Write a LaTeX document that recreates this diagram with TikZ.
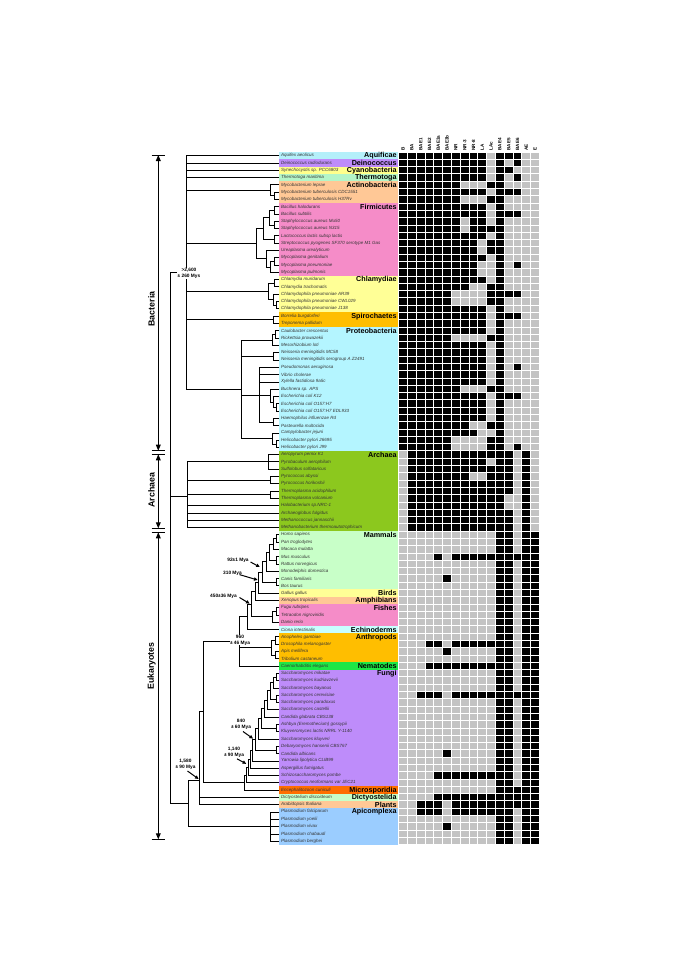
\documentclass[tikz,border=0pt]{standalone}
\usepackage{fontspec}
\setmainfont{Liberation Sans}
\usetikzlibrary{arrows.meta}
\definecolor{cAqu}{HTML}{B4F0FA}
\definecolor{cDei}{HTML}{BE8CFA}
\definecolor{cCya}{HTML}{FFFF8C}
\definecolor{cThe}{HTML}{B4F5C8}
\definecolor{cAct}{HTML}{FFC896}
\definecolor{cFir}{HTML}{F58CC8}
\definecolor{cChl}{HTML}{FFFF96}
\definecolor{cSpi}{HTML}{FFBE00}
\definecolor{cPro}{HTML}{B4F5FF}
\definecolor{cArc}{HTML}{8CC81E}
\definecolor{cMam}{HTML}{C8FFC8}
\definecolor{cBir}{HTML}{FFFF96}
\definecolor{cAmp}{HTML}{FFC896}
\definecolor{cFis}{HTML}{F58CC8}
\definecolor{cEch}{HTML}{C8FFFF}
\definecolor{cAnt}{HTML}{FFBE00}
\definecolor{cNem}{HTML}{1EE646}
\definecolor{cFun}{HTML}{BE8CFA}
\definecolor{cMic}{HTML}{FF6E00}
\definecolor{cDic}{HTML}{C8FFC8}
\definecolor{cPla}{HTML}{FFC896}
\definecolor{cApi}{HTML}{9BCDFF}
\definecolor{cGray}{HTML}{C3C3C3}
\newcommand\ry[1]{155.7+(#1-1)*7.29}
\newcommand\Br[5]{\draw[tree] (#3,#2) -- (#1,#2) -- (#1,#4) -- (#5,#4);}
\newcommand\Ed[3]{\draw[tree] (#1,#2) -- (#3,#2);}
\newcommand\spc[2]{\node[splab] at (281,{\ry{#1}}) {#2};}
\newcommand\gbox[3]{\fill[#3] (279,{152.05+(#1-1)*7.29}) rectangle (397.7,{152.05+#2*7.29});}
\newcommand\glab[2]{\node[grplab] at (396.8,{\ry{#1}+0.3}) {#2};}
\newcommand\blk[2]{\foreach \c in {#2}{\fill[black] ({398.7+(\c-1)*8.8},{152.05+(#1-1)*7.29}) rectangle ++(8.8,7.29);}}
\newcommand\hdr[2]{\node[hdrlab] at ({398.7+(#1-0.5)*8.8},150.6) {#2};}
\begin{document}
\begin{tikzpicture}[x=1pt,y=-1pt,
  tree/.style={line width=0.85pt,line cap=rect},
  splab/.style={anchor=west,inner sep=0,text=black!80,font=\fontsize{4.5pt}{5pt}\selectfont\itshape},
  grplab/.style={anchor=east,inner sep=0,font=\fontsize{7.2pt}{8pt}\selectfont\bfseries},
  hdrlab/.style={rotate=90,anchor=west,inner sep=0,font=\fontsize{4.6pt}{5pt}\selectfont\bfseries},
  tl/.style={align=center,inner sep=0.4pt,font=\fontsize{4.8pt}{5.8pt}\selectfont\bfseries},
  tarr/.style={line width=1pt,-{Triangle[length=3.6pt,width=3.4pt]}},
  darr/.style={line width=0.9pt,{Triangle[length=6pt,width=4.8pt]}-{Triangle[length=6pt,width=4.8pt]}},
  dlab/.style={rotate=90,inner sep=0,font=\fontsize{8.8pt}{10pt}\selectfont\bfseries}]
\fill[white] (0,0) rectangle (685,969);
\useasboundingbox (0,0) rectangle (685,969);
% ---------- group boxes ----------
\gbox{1}{1}{cAqu}\gbox{2}{2}{cDei}\gbox{3}{3}{cCya}\gbox{4}{4}{cThe}
\gbox{5}{7}{cAct}\gbox{8}{17}{cFir}\gbox{18}{22}{cChl}\gbox{23}{24}{cSpi}
\gbox{25}{41}{cPro}\gbox{42}{52}{cArc}\gbox{53}{60}{cMam}\gbox{61}{61}{cBir}
\gbox{62}{62}{cAmp}\gbox{63}{65}{cFis}\gbox{66}{66}{cEch}\gbox{67}{70}{cAnt}
\gbox{71}{71}{cNem}\gbox{72}{87}{cFun}\gbox{88}{88}{cMic}\gbox{89}{89}{cDic}
\gbox{90}{90}{cPla}\gbox{91}{95}{cApi}
% ---------- species ----------
\spc{1}{Aquifex aeolicus}
\spc{2}{Deinococcus radiodurans}
\spc{3}{Synechocystis sp. PCC6803}
\spc{4}{Thermotoga maritima}
\spc{5}{Mycobacterium leprae}
\spc{6}{Mycobacterium tuberculosis CDC1551}
\spc{7}{Mycobacterium tuberculosis H37Rv}
\spc{8}{Bacillus halodurans}
\spc{9}{Bacillus subtilis}
\spc{10}{Staphylococcus aureus Mu50}
\spc{11}{Staphylococcus aureus N315}
\spc{12}{Lactococcus lactis subsp lactis}
\spc{13}{Streptococcus pyogenes SF370 serotype M1 Gas}
\spc{14}{Ureaplasma urealyticum}
\spc{15}{Mycoplasma genitalium}
\spc{16}{Mycoplasma pneumoniae}
\spc{17}{Mycoplasma pulmonis}
\spc{18}{Chlamydia muridarum}
\spc{19}{Chlamydia trachomatis}
\spc{20}{Chlamydophila pneumoniae AR39}
\spc{21}{Chlamydophila pneumoniae CWL029}
\spc{22}{Chlamydophila pneumoniae J138}
\spc{23}{Borrelia burgdorferi}
\spc{24}{Treponema pallidum}
\spc{25}{Caulobacter crescentus}
\spc{26}{Rickettsia prowazekii}
\spc{27}{Mesorhizobium loti}
\spc{28}{Neisseria meningitidis MC58}
\spc{29}{Neisseria meningitidis serogroup A Z2491}
\spc{30}{Pseudomonas aeruginosa}
\spc{31}{Vibrio cholerae}
\spc{32}{Xylella fastidiosa 9a5c}
\spc{33}{Buchnera sp. APS}
\spc{34}{Escherichia coli K12}
\spc{35}{Escherichia coli O157:H7}
\spc{36}{Escherichia coli O157:H7 EDL933}
\spc{37}{Haemophilus influenzae Rd}
\spc{38}{Pasteurella multocida}
\spc{39}{Campylobacter jejuni}
\spc{40}{Helicobacter pylori 26695}
\spc{41}{Helicobacter pylori J99}
\spc{42}{Aeropyrum pernix K1}
\spc{43}{Pyrobaculum aerophilum}
\spc{44}{Sulfolobus solfataricus}
\spc{45}{Pyrococcus abyssi}
\spc{46}{Pyrococcus horikoshii}
\spc{47}{Thermoplasma acidophilum}
\spc{48}{Thermoplasma volcanium}
\spc{49}{Halobacterium sp.NRC-1}
\spc{50}{Archaeoglobus fulgidus}
\spc{51}{Methanococcus jannaschii}
\spc{52}{Methanobacterium thermoautotrophicum}
\spc{53}{Homo sapiens}
\spc{54}{Pan troglodytes}
\spc{55}{Macaca mulatta}
\spc{56}{Mus musculus}
\spc{57}{Rattus norvegicus}
\spc{58}{Monodelphis domestica}
\spc{59}{Canis familiaris}
\spc{60}{Bos taurus}
\spc{61}{Gallus gallus}
\spc{62}{Xenopus tropicalis}
\spc{63}{Fugu rubripes}
\spc{64}{Tetraodon nigroviridis}
\spc{65}{Danio rerio}
\spc{66}{Ciona intestinalis}
\spc{67}{Anopheles gambiae}
\spc{68}{Drosophila melanogaster}
\spc{69}{Apis mellifera}
\spc{70}{Tribolium castaneum}
\spc{71}{Caenorhabditis elegans}
\spc{72}{Saccharomyces mikatae}
\spc{73}{Saccharomyces kudriavzevii}
\spc{74}{Saccharomyces bayanus}
\spc{75}{Saccharomyces cerevisiae}
\spc{76}{Saccharomyces paradoxus}
\spc{77}{Saccharomyces castellii}
\spc{78}{Candida glabrata CBS138}
\spc{79}{Ashbya (Eremothecium) gossypii}
\spc{80}{Kluyveromyces lactis NRRL Y-1140}
\spc{81}{Saccharomyces kluyveri}
\spc{82}{Debaryomyces hansenii CBS767}
\spc{83}{Candida albicans}
\spc{84}{Yarrowia lipolytica CLIB99}
\spc{85}{Aspergillus fumigatus}
\spc{86}{Schizosaccharomyces pombe}
\spc{87}{Cryptococcus neoformans var JEC21}
\spc{88}{Encephalitozoon cuniculi}
\spc{89}{Dictyostelium discoideum}
\spc{90}{Arabidopsis thaliana}
\spc{91}{Plasmodium falciparum}
\spc{92}{Plasmodium yoelii}
\spc{93}{Plasmodium vivax}
\spc{94}{Plasmodium chabaudi}
\spc{95}{Plasmodium berghei}
% ---------- group labels ----------
\glab{1}{Aquificae}\glab{2}{Deinococcus}\glab{3}{Cyanobacteria}\glab{4}{Thermotoga}
\glab{5}{Actinobacteria}\glab{8}{Firmicutes}\glab{18}{Chlamydiae}\glab{23}{Spirochaetes}
\glab{25}{Proteobacteria}\glab{42}{Archaea}\glab{53}{Mammals}\glab{61}{Birds}
\glab{62}{Amphibians}\glab{63}{Fishes}\glab{66}{Echinoderms}\glab{67}{Anthropods}
\glab{71}{Nematodes}\glab{72}{Fungi}\glab{88}{Microsporidia}\glab{89}{Dictyostelida}
\glab{90}{Plants}\glab{91}{Apicomplexa}
% ---------- grid ----------
\fill[cGray] (398.7,152.05) rectangle (539.5,844.6);
\blk{1}{1,...,10,12,13,14}
\blk{2}{1,...,10,12,14}
\blk{3}{1,...,10,12,13}
\blk{4}{1,...,10,12,14}
\blk{5}{1,...,7,11,12}
\blk{6}{1,...,10,12,13,14}
\blk{7}{1,...,7,11,12}
\blk{8}{1,...,10,12}
\blk{9}{1,...,10,12,13,14}
\blk{10}{1,...,7,9,10,12}
\blk{11}{1,...,7,9,10,11,12}
\blk{12}{1,...,10,12}
\blk{13}{1,...,9,11,12}
\blk{14}{1,...,9,11,12}
\blk{15}{1,...,10,12}
\blk{16}{1,...,9,12,14}
\blk{17}{1,...,9,12}
\blk{18}{1,...,10,12}
\blk{19}{1,...,8,11,12}
\blk{20}{1,...,6,11,12,13,14}
\blk{21}{1,...,6,11,12}
\blk{22}{1,...,10,12}
\blk{23}{1,...,10,12,13,14}
\blk{24}{1,...,10,12}
\blk{25}{1,...,10,12}
\blk{26}{1,...,6,11,12}
\blk{27}{1,...,10,12}
\blk{28}{1,...,10,12}
\blk{29}{1,...,10,12}
\blk{30}{1,...,10,12,14}
\blk{31}{1,...,10,12}
\blk{32}{1,...,10,12}
\blk{33}{1,...,7,11,12}
\blk{34}{1,...,10,12,13,14}
\blk{35}{1,...,10,12}
\blk{36}{1,...,10,12}
\blk{37}{1,...,10,12}
\blk{38}{1,...,8,11,12}
\blk{39}{1,...,9,12}
\blk{40}{1,...,6,11,12}
\blk{41}{1,...,6,11,12,14}
\blk{42}{2,...,13,15}
\blk{43}{2,...,10,12,13,15}
\blk{44}{2,...,13,15}
\blk{45}{2,...,8,11,12,13,15}
\blk{46}{2,...,13,15}
\blk{47}{2,...,13,15}
\blk{48}{2,...,12,15}
\blk{49}{2,...,12,15}
\blk{50}{2,...,13,15}
\blk{51}{2,...,13,15}
\blk{52}{2,...,13,15}
\foreach \r in {53,...,95}{\blk{\r}{12,13,15,16}}
\blk{56}{5,7,8,9,10,11,14}
\blk{59}{6}
\blk{68}{4,5,7,8,9,10,11}
\blk{69}{6}
\blk{71}{4,...,11}
\blk{75}{3,4,5,7,8,9,10,11,14}
\blk{83}{6}
\blk{86}{5,...,11}
\blk{88}{14}
\blk{89}{5,...,14}
\blk{90}{3,4,5,7,8,9,10,11,12,13,14}
\blk{91}{3,4,5,7,8,9,10,11}
\blk{93}{6}
\foreach \c in {0,...,16}{\draw[white,line width=0.9pt] ({398.7+\c*8.8},152.05) -- ++(0,692.55);}
\foreach \r in {0,...,95}{\draw[white,line width=0.9pt] (398.7,{152.05+\r*7.29}) -- ++(140.8,0);}
% ---------- headers ----------
\hdr{1}{B}\hdr{2}{BA}\hdr{3}{BAE1}\hdr{4}{BAE2}\hdr{5}{BAE3a}\hdr{6}{BAE3b}
\hdr{7}{NR}\hdr{8}{NR-3}\hdr{9}{NR-8}\hdr{10}{LA}\hdr{11}{LAc}\hdr{12}{BAE4}
\hdr{13}{BAE5}\hdr{14}{BAE6}\hdr{15}{AE}\hdr{16}{E}
% ---------- tree: bacteria ----------
\Br{186.3}{155.7}{279}{389.3}{241}
\Ed{186.3}{163.0}{279}\Ed{186.3}{170.3}{279}\Ed{186.3}{177.6}{279}
\Ed{186.3}{190.4}{270}\Ed{186.3}{243.66}{256.7}\Ed{186.3}{291.46}{268.3}\Ed{186.3}{319.75}{273.3}
\Br{274}{192.2}{279}{199.5}{279}
\Br{270}{184.9}{279}{195.85}{274}
\Br{274}{206.7}{279}{214.0}{279}
\Br{274}{221.3}{279}{228.6}{279}
\Br{269}{210.35}{274}{224.95}{274}
\Br{274}{235.9}{279}{243.2}{279}
\Br{263}{217.65}{269}{239.55}{274}
\Br{274}{257.8}{279}{265.1}{279}
\Br{270}{261.45}{274}{272.4}{279}
\Br{266}{250.5}{279}{266.93}{270}
\Br{256.7}{228.6}{263}{258.71}{266}
\Br{274}{279.6}{279}{286.9}{279}
\Br{276}{301.5}{279}{308.8}{279}
\Br{273}{294.2}{279}{305.15}{276}
\Br{268.3}{283.25}{274}{299.68}{273}
\Br{273.3}{316.1}{279}{323.4}{279}
\Br{275}{330.9}{279}{338.2}{279}
\Br{272}{334.55}{275}{345.5}{279}
\Br{273}{352.8}{279}{360.1}{279}
\Br{276}{403.9}{279}{411.2}{279}
\Br{273}{396.6}{279}{407.55}{276}
\Br{270}{389.3}{279}{402.08}{273}
\Br{273}{418.5}{279}{425.8}{279}
\Br{259.3}{367.4}{279}{422.15}{273}
\Ed{259.3}{374.7}{279}\Ed{259.3}{382.0}{279}\Ed{259.3}{395.69}{270}
\Br{276}{440.4}{279}{447.7}{279}
\Br{272}{433.1}{279}{444.05}{276}
\Br{241}{340.03}{272}{438.58}{272}
\Ed{241}{356.45}{273}\Ed{241}{395.69}{259.3}
% ---------- tree: archaea ----------
\Br{268.3}{454.6}{279}{469.2}{279}\Ed{268.3}{461.9}{279}
\Br{270}{476.5}{279}{483.8}{279}
\Br{270}{491.1}{279}{498.4}{279}
\Br{187.7}{461.9}{268.3}{527.6}{279}
\Ed{187.7}{480.15}{270}\Ed{187.7}{494.75}{270}
\Ed{187.7}{505.7}{279}\Ed{187.7}{513.0}{279}\Ed{187.7}{520.3}{279}
% ---------- tree: eukaryotes ----------
\Br{276}{534.8}{279}{542.1}{279}
\Br{273}{538.45}{276}{549.4}{279}
\Br{276}{556.7}{279}{564.0}{279}
\Br{269}{543.93}{273}{560.35}{276}
\Br{266}{552.14}{269}{571.3}{279}
\Br{276}{578.6}{279}{585.9}{279}
\Br{262}{561.72}{266}{582.25}{276}
\Br{258.3}{571.99}{262}{593.1}{279}
\Br{255}{582.55}{258.3}{600.4}{279}
\Br{276}{607.7}{279}{615.0}{279}
\Br{272}{611.35}{276}{622.3}{279}
\Br{251}{591.48}{255}{616.83}{272}
\Br{247}{604.15}{251}{629.6}{279}
\Br{275}{636.9}{279}{644.2}{279}
\Br{275}{651.5}{279}{658.8}{279}
\Br{271.7}{640.55}{275}{655.15}{275}
\Br{239.3}{616.88}{247}{666.1}{279}
\Ed{239.3}{647.85}{271.7}
\Br{276}{673.4}{279}{680.7}{279}
\Br{273}{677.05}{276}{688.0}{279}
\Br{276}{695.3}{279}{702.6}{279}
\Br{270}{682.53}{273}{698.95}{276}
\Br{267}{690.74}{270}{709.9}{279}
\Br{264}{700.32}{267}{717.2}{279}
\Br{276}{724.5}{279}{731.8}{279}
\Br{261}{708.76}{264}{728.15}{276}
\Br{258}{718.46}{261}{739.1}{279}
\Br{276}{746.4}{279}{753.7}{279}
\Br{255}{728.78}{258}{750.05}{276}
\Br{252.5}{739.42}{255}{761.0}{279}
\Br{250}{750.21}{252.5}{768.3}{279}
\Br{248}{759.26}{250}{775.6}{279}
\Br{246}{767.43}{248}{782.9}{279}
\Br{244}{775.17}{246}{790.2}{279}
\Br{203.3}{641.7}{239.3}{782.68}{244}
\Br{199.3}{711.7}{203.3}{804.8}{279}
\Ed{199.3}{797.5}{279}
\Br{270}{812.1}{279}{841.3}{279}
\Ed{270}{819.4}{279}\Ed{270}{826.7}{279}\Ed{270}{834.0}{279}
\Br{188.3}{780}{199.3}{826.7}{270}
% ---------- root ----------
\Br{170}{272}{186.3}{803.3}{188.3}
\Ed{170}{496}{187.7}
% ---------- time labels ----------
\node[tl,fill=white] at (189,273.6) {>2,600\\± 260 Mys};
\node[tl] at (238,560.5) {92±1 Mya};
\draw[tarr] (250.5,562) -- (259.8,567);
\node[tl] at (232.5,573.3) {310 Mya};
\draw[tarr] (239.5,574.6) -- (257.6,580);
\node[tl] at (223.5,596.2) {450±36 Mya};
\draw[tarr] (239.5,597.5) -- (249.6,603.6);
\node[tl,fill=white] at (240,640) {960\\± 46 Mya};
\node[tl] at (241,724.5) {840\\± 60 Mya};
\draw[tarr] (243,731.5) -- (253,738.6);
\node[tl] at (234,752) {1,140\\± 90 Mya};
\draw[tarr] (237,758.8) -- (246.2,763.8);
\node[tl] at (185.5,764) {1,580\\± 90 Mya};
\draw[tarr] (187.5,771) -- (198.6,779);
% ---------- domain arrows ----------
\draw[darr] (158.3,155) -- (158.3,450.7);
\draw[darr] (158.3,454.3) -- (158.3,528.3);
\draw[darr] (158.3,532.3) -- (158.3,839.3);
\foreach \yy in {155,450.7,454.3,528.3,532.3,839.3}{\draw[line width=0.9pt] (151.6,\yy) -- (165,\yy);}
\node[dlab] at (151.6,309) {Bacteria};
\node[dlab] at (151.6,490) {Archaea};
\node[dlab] at (151.6,666) {Eukaryotes};
\end{tikzpicture}
\end{document}
